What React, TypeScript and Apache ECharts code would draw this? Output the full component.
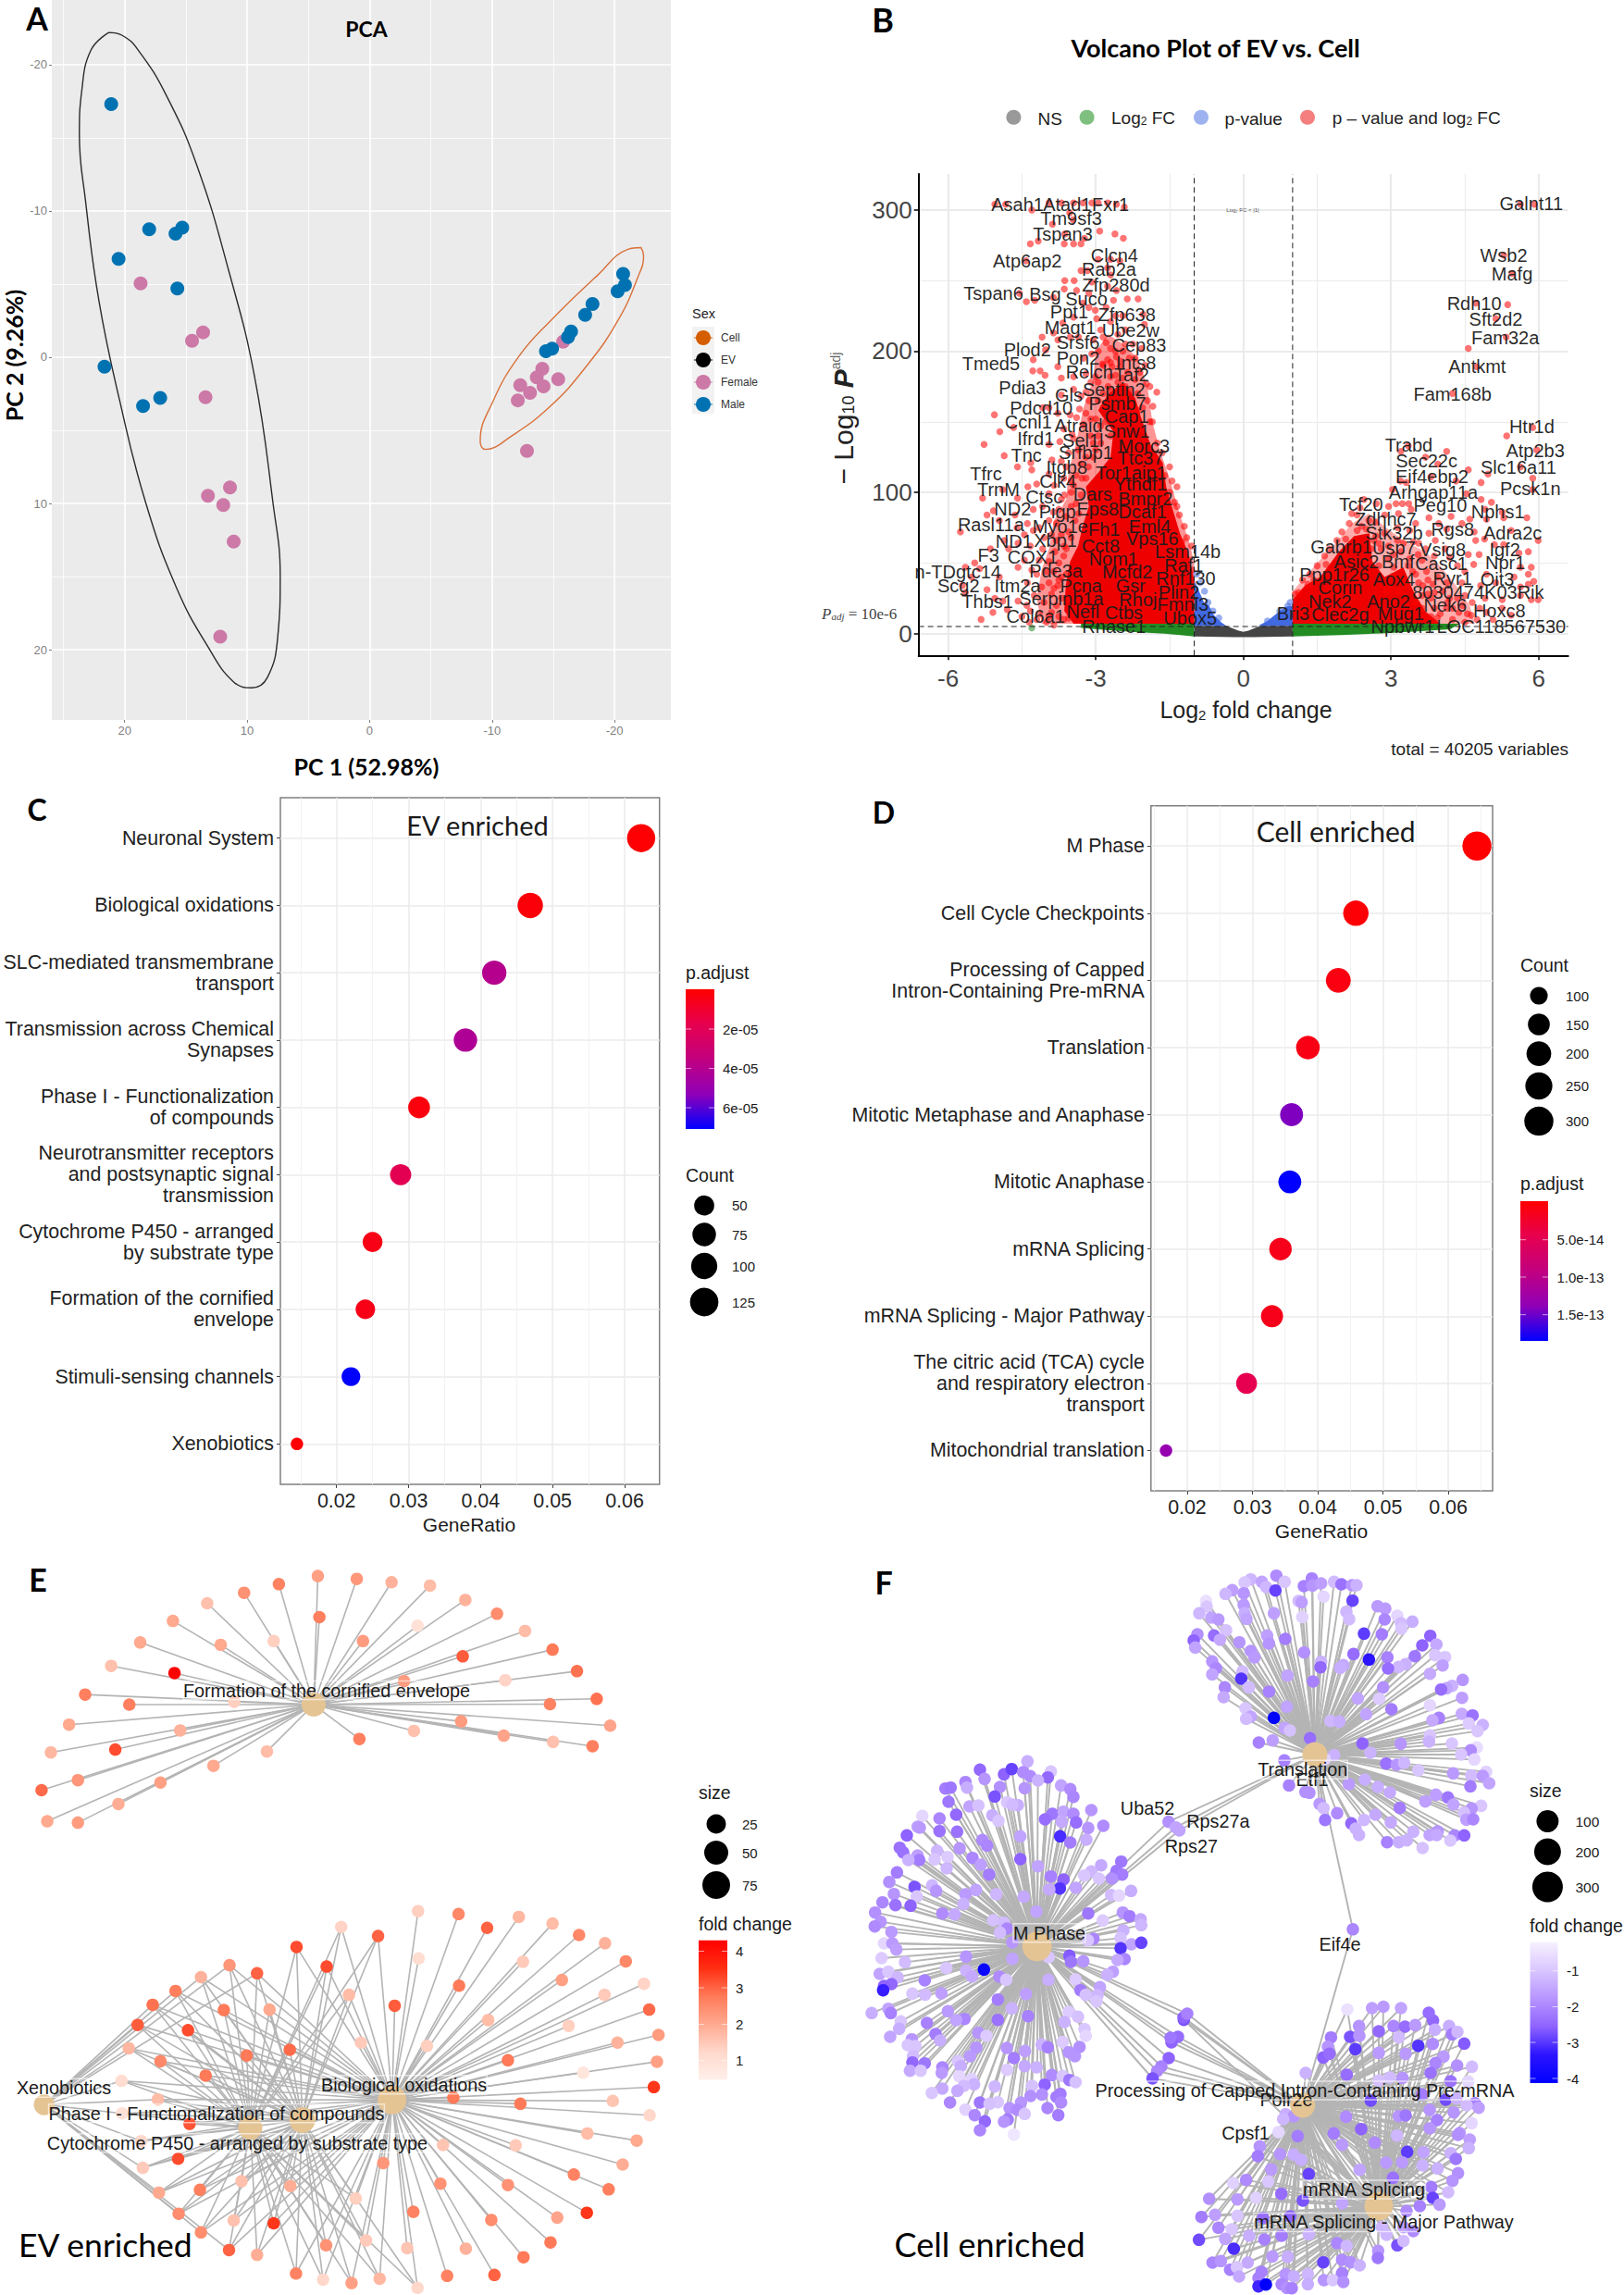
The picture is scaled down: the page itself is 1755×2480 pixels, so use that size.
import React, { useEffect, useRef } from "react";
import * as echarts from "echarts";

const SANS = "Liberation Sans";
const CAL = "Lato";
const HUB = "#E5C494";

// ---------- Panel A ----------
const pcaEvMale = [[21.1,-17.3],[18,-8.75],[15.85,-8.44],[15.3,-8.85],[20.5,-6.72],[15.7,-4.7],[21.65,0.65],[17.1,2.78],[18.5,3.33]];
const pcaEvFemale = [[18.7,-5.04],[13.6,-1.7],[14.5,-1.13],[13.4,2.74],[11.4,8.9],[13.2,9.47],[11.95,10.1],[11.1,12.6],[12.2,19.1]];
const pcaCellMale = [[-20.7,-5.7],[-20.85,-4.94],[-20.25,-4.5],[-18.2,-3.64],[-17.6,-2.9],[-16.45,-1.75],[-16.2,-1.37],[-14.9,-0.58],[-14.4,-0.41]];
const pcaCellFemale = [[-15.8,-1.06],[-14.1,0.79],[-13.65,1.37],[-15.4,1.5],[-14.2,2],[-12.3,1.92],[-13.1,2.44],[-12.1,2.95],[-12.85,6.4]];
const pcaEvEllipse = [[21.3,-22.2],[22.75,-21],[23.5,-18.25],[23.7,-15.2],[23.2,-10.7],[22.1,-3.84],[20.4,3],[18.3,9.9],[15.8,15.7],[13.2,19.8],[11.1,22.2],[9.6,22.6],[8.35,21.9],[7.5,19.1],[7.3,15],[7.9,9.9],[9.4,1.3],[11.5,-5.9],[14.1,-13.1],[16.6,-17.9],[18.9,-21],[20.2,-22],[21.3,-22.2]];
const pcaCellEllipse = [[-22.16,-7.5],[-21.1,-7.38],[-18.56,-5.56],[-14.75,-2.47],[-12.2,-0.07],[-10.08,3],[-9.03,5.76],[-9.45,6.3],[-11.57,5.4],[-14.75,3.36],[-17.7,0.62],[-20.25,-2.47],[-21.95,-5.56],[-22.37,-6.93],[-22.16,-7.5]];
const pcaXTicks = [20,10,0,-10,-20];
const pcaXMinor = [25,15,5,-5,-15];
const pcaYTicks = [-20,-10,0,10,20];
const pcaYMinor = [-15,-5,5,15];

// ---------- Panel B ----------
const volLeftPoints = [[-5.05,304],[-4.83,304],[-4.3,300],[-3.95,305],[-3.7,305],[-3.45,305],[-3.26,305],[-3.08,305],[-2.95,305],[-2.76,305],[-2.58,304],[-2.42,302],[-3.88,290],[-3.46,293],[-3.53,298],[-2.92,285],[-2.61,283],[-2.44,280],[-4.33,276],[-4.17,278],[-3.63,283],[-3.64,276],[-3.23,280],[-3.45,276],[-3.3,276],[-4.42,264],[-2.7,265],[-2.95,265],[-2.51,264],[-3.3,257],[-3.17,257],[-2.76,259],[-2.7,254],[-3.63,250],[-3.44,250],[-3.08,249],[-2.76,246],[-2.58,243],[-3.64,244],[-3.39,243],[-3.14,241],[-4.41,235],[-4.24,236],[-3.86,238],[-4.55,241],[-2.36,237],[-2.14,237],[-2.64,236],[-2.79,231],[-3.01,229],[-3.14,231],[-3.26,234],[-2.45,225],[-2.7,221],[-2.04,226],[-2.01,219],[-2.98,223],[-3.45,224],[-3.67,220],[-3.86,213],[-4.09,210],[-3.77,208],[-3.52,210],[-2.79,206],[-2.7,202],[-2.95,200],[-2.58,196],[-2.76,194],[-2.86,191],[-2.67,189],[-2.51,189],[-2.32,195],[-2.07,202],[-3.08,198],[-4.02,201],[-4.27,194],[-4.28,186],[-4.13,186],[-4.03,183],[-3.77,189],[-3.7,181],[-3.45,182],[-3.2,184],[-3.01,182],[-2.7,182],[-2.45,181],[-2.2,180],[-1.97,177],[-1.76,171],[-1.84,161],[-3.45,173],[-3.2,171],[-3.7,169],[-3.14,165],[-3.33,159],[-3.52,155],[-3.2,156],[-3.39,153],[-2.95,165],[-5.06,155],[-4.08,160],[-3.77,156],[-3.95,160],[-4.67,146],[-4.95,143],[-5.27,134],[-3.95,134],[-3.73,136],[-3.48,141],[-4.86,126],[-4.59,118],[-4.32,121],[-4.3,116],[-3.89,123],[-3.95,113],[-4.2,106],[-4.38,104],[-4.59,96],[-5.3,96],[-4.89,102],[-5.08,87],[-5.21,84],[-5.75,72],[-4.96,80],[-4.64,84],[-4.39,78],[-4.27,88],[-4.08,90],[-3.95,99],[-3.7,95],[-3.64,98],[-3.86,86],[-5.14,60],[-5.46,50],[-5.65,47],[-5.52,40],[-5.36,46],[-5.65,29],[-5.71,34],[-5.21,31],[-5.05,25],[-5.09,15],[-5.33,10],[-4.89,23],[-4.8,17],[-4.58,23],[-4.86,66],[-4.58,64],[-4.27,73],[-4.08,60],[-4.77,60],[-4.33,62],[-4.96,40],[-4.58,47],[-4.39,36],[-4.2,42],[-3.95,51],[-3.83,58],[-3.64,62],[-3.77,34],[-3.95,36],[-4.33,16],[-3.95,12],[-3.5,100],[-3.4,112],[-3.3,120],[-3.2,125],[-3,130],[-3.1,140],[-2.9,147],[-3,152],[-2.85,160],[-2.75,175],[-2.6,183],[-2.85,190],[-1.95,165],[-1.85,150],[-1.75,135],[-1.65,128],[-1.5,118],[-1.45,108],[-1.35,104],[-1.4,93],[-1.3,84],[-1.2,76],[-1.15,68],[-1.05,62],[-3.7,40],[-3.75,50],[-3.8,66],[-3.55,72],[-3.6,83],[-3.5,90],[-3.42,80],[-3.7,25],[-3.8,20],[-3.9,28],[-3.85,44],[-2.6,200],[-2.5,193],[-2.55,212],[-2.4,205],[-2.85,210],[-2.35,185],[-2.4,175],[-2.7,172],[-2.3,172],[-2.25,160],[-2.15,158],[-2.6,165],[-3.35,130],[-3.6,118],[-3.2,110],[-3.5,108],[-3.3,98],[-2.9,135],[-2.8,150],[-2.7,140],[-2.5,150],[-2.4,140],[-2.3,150],[-2.2,135],[-2.1,145],[-2,135],[-3.65,10],[-3.75,12],[-3.55,11],[-4.5,12],[-4.4,20],[-4.25,27],[-4.15,14],[-4.05,22],[-4.1,33],[-4,44],[-4.3,45],[-4.45,52],[-4.15,52],[-4.05,68],[-3.9,70],[-3.95,80],[-4.15,75],[-4.45,70],[-4.6,75],[-3.8,78],[-3.75,88],[-3.85,105],[-3.65,110],[-3.7,122],[-3.55,128],[-3.45,138],[-3.25,148],[-3.1,152],[-3.65,145],[-3.3,168],[-3.1,178],[-3.25,195],[-3.05,208],[-3.35,210],[-2.9,215],[-2.95,178],[-3.05,125],[-3.85,6],[-3.75,38],[-3.65,55],[-3.6,42],[-3.55,25],[-3.85,32],[-4,8],[-4.2,10],[-4.35,8],[-3.9,15],[-3.7,70],[-3.6,60],[-3.5,68],[-3.4,92],[-3.35,85],[-3.45,105],[-3.28,110],[-3.15,118],[-3.05,135],[-2.95,140],[-2.85,170],[-2.7,192],[-2.55,178],[-2.4,165],[-2.3,155],[-2.15,170],[-2.05,160],[-1.9,150],[-1.8,125],[-1.6,112],[-1.5,100],[-1.35,90],[-1.25,65],[-1.12,52],[-1.05,45],[-1.9,175],[-2,190],[-2.25,205],[-2.4,215],[-2.6,225],[-2.45,200],[-2.2,195],[-2.1,185]];
const volRightPoints = [[5.63,304],[5.91,304],[5.29,268],[5.46,255],[4.72,234],[5.37,233],[5.13,223],[5.34,210],[4.57,202],[4.74,189],[4.25,170],[5.88,146],[5.35,140],[5.96,130],[3.35,133],[3.2,129],[4.13,129],[3.7,125],[3.95,120],[4.57,116],[5.63,118],[4.97,113],[5.88,110],[3.81,111],[3.31,107],[3.19,108],[4.32,108],[4.83,107],[3.03,102],[4.53,99],[5.88,102],[3.1,92],[3.23,92],[3.36,92],[4.83,95],[5.04,93],[3.41,88],[2.37,89],[2.87,84],[3.77,82],[4.22,83],[4.91,88],[5.26,86],[5.76,82],[4.6,81],[3.97,78],[4.44,78],[4.94,81],[5.29,82],[2.69,79],[4.69,72],[5.44,73],[3.77,71],[4.13,74],[3.13,75],[3.38,73],[5.99,66],[4.9,67],[4.72,66],[2.08,67],[3.25,64],[3.56,64],[5.1,63],[4.57,56],[4.79,56],[5.79,58],[5.6,57],[5.29,63],[3.88,55],[3.63,52],[4.19,54],[4.68,49],[5.63,47],[5.85,47],[4.94,42],[5.79,42],[5.9,37],[5.5,40],[5.79,35],[3.75,38],[4.13,36],[4.44,36],[4.82,34],[5.13,36],[3.72,44],[5.63,33],[5.63,27],[5.85,24],[5.99,24],[5.26,24],[4.91,25],[4.5,27],[4.19,25],[3.88,29],[3.63,27],[5.26,18],[4.94,15],[4.63,13],[4.38,15],[4,14],[3.81,12],[5.07,10],[4.75,10],[4.5,8],[5.44,13],[4.25,10],[3.94,11],[1.68,49],[1.81,44],[2.06,53],[2.31,73],[2.5,74],[2.75,64],[2.94,53],[3.06,47],[1.31,35],[1.43,38],[1.12,29],[3.38,53],[3.44,44],[3.56,36],[3.25,38],[3,31],[3.81,25],[3.88,18],[4.13,18],[3.63,18],[2.31,84],[2.87,71],[3.13,66],[2.69,69],[1.05,28],[1.2,38],[1.35,42],[1.5,48],[1.65,55],[1.75,60],[1.9,66],[2,72],[2.15,78],[2.25,62],[2.4,76],[2.55,80],[2.65,66],[2.8,60],[2.95,62],[3.05,56],[3.2,58],[3.35,48],[3.5,42],[3.55,56],[3.65,34],[3.75,28],[3.85,35],[3.95,40],[4.05,30],[4.15,22],[4.25,18],[4.35,25],[4.45,20],[4.55,14],[4.65,22],[4.8,18],[3.45,65],[3.7,60],[3.9,66],[4.1,60],[4.35,48],[4.5,44],[2.45,95],[2.2,85],[2.7,92],[2.95,90],[3.15,85],[3.5,78],[2.6,60],[2.75,48],[3.05,40],[3.3,35],[3.15,30],[3.5,22],[3.3,20],[3.05,22],[2.9,30]];
const volBluePoints = [[-0.95,42],[-0.88,36],[-0.79,30],[-0.72,22],[-0.62,16],[-0.5,11],[0.9,19.5],[0.74,16],[0.49,9],[0.95,22]];
const volGreenPoints = [[-4.3,4]];
const volRedLeftCloud = [[-4.1,7],[-4.2,25],[-4.1,45],[-3.95,60],[-3.85,80],[-3.6,95],[-3.55,115],[-3.4,135],[-3.25,160],[-3.05,180],[-3,200],[-2.75,212],[-2.45,205],[-2.15,195],[-1.95,175],[-1.85,150],[-1.7,130],[-1.5,110],[-1.3,85],[-1.1,65],[-1,50],[-1,7]];
const volRedRightCloud = [[1,7],[1,30],[1.5,50],[1.9,65],[2.2,78],[2.55,85],[2.9,75],[3.3,65],[3.7,58],[4,48],[4.3,35],[4.6,20],[4.7,7]];
const volRedLeftArea = [[-3.45,7],[-3.64,16],[-3.61,34],[-3.52,51],[-3.36,62],[-3.26,77],[-3.14,90],[-3.2,104],[-2.95,114],[-2.7,125],[-2.64,143],[-2.95,158],[-2.76,169],[-2.45,178],[-2.2,167],[-2.07,152],[-1.89,134],[-1.64,121],[-1.57,104],[-1.42,86],[-1.29,71],[-1.13,58],[-1,38],[-1,7]];
const volRedRightArea = [[1,7],[1,24],[1.25,34],[1.56,40],[1.94,58],[2.25,69],[2.56,71],[2.62,51],[2.87,40],[3.25,47],[3.44,31],[3.69,16],[4,7]];
const volBlueLeftArea = [[-1,38],[-0.9,30],[-0.8,22],[-0.7,20],[-0.6,13],[-0.45,8],[-0.35,5.5],[-1,5.5]];
const volBlueRightArea = [[1,19.5],[0.9,19.5],[0.74,16],[0.49,9],[0.3,5.5],[1,5.5]];
const volGreenLeftArea = [[-3.3,7],[-1,7],[-1,-2],[-1.6,0],[-2.2,1],[-2.8,2.5],[-3.3,4]];
const volGreenRightArea = [[1,7],[4.4,7],[4.2,3],[3,0.5],[2,-1],[1,-2]];
const volGreyArea = [[-1,5.5],[-0.35,5.5],[-0.1,2],[0,1.2],[0.1,2],[0.35,5.5],[1,5.5],[1,-2],[0.2,-2.5],[-0.2,-2.5],[-1,-2]];
const volLabels: [string, number, number][] = [["Asah1",-4.59,304],["Atad1",-3.58,304],["Fxr1",-2.7,304],["Tm9sf3",-3.5,294],["Tspan3",-3.67,283],["Atp6ap2",-4.39,264],["Clcn4",-2.62,268],["Rab2a",-2.73,258],["Zfp280d",-2.59,247],["Tspan6",-5.08,241],["Bsg",-4.03,240],["Suco",-3.19,237],["Ppt1",-3.54,228],["Zfp638",-2.37,226],["Magt1",-3.52,217],["Ube2w",-2.29,215],["Srsf6",-3.36,206],["Plod2",-4.39,201],["Cep83",-2.12,204],["Pon2",-3.36,195],["Tmed5",-5.13,191],["Ints8",-2.18,192],["Relch",-3.13,185],["Taf2",-2.27,183],["Pdia3",-4.49,174],["Septin2",-2.63,173],["Gls",-3.55,169],["Psmb7",-2.56,163],["Pdcd10",-4.11,160],["Cap1",-2.37,154],["Ccnl1",-4.37,150],["Atraid",-3.35,147],["Ifrd1",-4.22,138],["Snw1",-2.37,143],["Sel1l",-3.26,137],["Morc3",-2.02,133],["Srfbp1",-3.2,128],["Tnc",-4.41,126.5],["Ttc37",-2.09,124],["Itgb8",-3.59,118],["Tor1aip1",-2.28,114],["Tfrc",-5.23,113],["Clk4",-3.77,108],["Ythdf1",-2.09,106],["TrnM",-4.98,102],["Dars",-3.06,99],["Ctsc",-4.05,97],["Bmpr2",-1.99,95.5],["ND2",-4.69,88],["Pigp",-3.78,86],["Eps8",-2.96,88],["Dcaf1",-2.05,86],["Rasl11a",-5.13,77],["Myo1e",-3.72,76],["Fh1",-2.83,74],["Eml4",-1.9,76],["ND1",-4.66,65],["Xbp1",-3.82,66],["Vps16",-1.85,67],["Cct8",-2.9,62],["F3",-5.18,55.5],["COX1",-4.28,54],["Lsm14b",-1.13,58],["Nom1",-2.64,53],["n-TDgtc14",-5.8,44],["Pde3a",-3.81,44.5],["Raf1",-1.21,48],["Mcfd2",-2.36,43.5],["Rnf130",-1.17,39],["Scg2",-5.79,34],["Itm2a",-4.59,34],["Pcna",-3.3,34],["Gsr",-2.29,33.6],["Serpinb1a",-3.7,25],["Plin2",-1.31,29],["Thbs1",-5.2,22.7],["Rhoj",-2.14,24],["Fmnl3",-1.23,20.5],["Col6a1",-4.22,12.4],["Nefl",-3.26,15.5],["Ctbs",-2.43,15],["Ubox5",-1.08,10.7],["Rnase1",-2.63,5],["Galnt11",5.85,304.5],["Wsb2",5.29,268],["Mafg",5.46,255],["Rdh10",4.69,234],["Sft2d2",5.13,222.6],["Fam32a",5.32,209.5],["Antkmt",4.75,189],["Fam168b",4.25,169.5],["Htr1d",5.86,146.6],["Trabd",3.36,133.7],["Atp2b3",5.93,129.7],["Sec22c",3.72,122.5],["Slc16a11",5.59,117.7],["Eif4ebp2",3.83,111],["Arhgap11a",3.86,100],["Pcsk1n",5.83,102.4],["Tcf20",2.39,91.5],["Peg10",4,91],["Nphs1",5.17,86],["Zdhhc7",2.89,81],["Rgs8",4.25,74],["Stk32b",3.06,71],["Adra2c",5.47,71.4],["Gabrb1",1.99,61.4],["Usp7",3.06,60.5],["Vsig8",4.05,59.4],["Igf2",5.31,59.4],["Asic2",2.3,51],["Bmf",3.14,51],["Casc1",4.02,49.4],["Npr1",5.32,50],["Ppp1r26",1.85,42],["Aox4",3.06,38.7],["Ryr1",4.25,39],["Oit3",5.16,38.7],["Corin",1.97,32.5],["8030474K03Rik",4.77,29],["Nek2",1.76,23],["Ano2",2.95,23],["Nek6",4.1,20],["Bri3",1.01,14.4],["Clec2g",1.97,13.3],["Hoxc8",5.2,16],["Mug1",3.2,14],["Npbwr1",3.24,4.8],["LOC118567530",5.24,4.8]];
const volXTicks = [-6,-3,0,3,6];
const volXMinor = [-4.5,-1.5,1.5,4.5];
const volYTicks = [0,100,200,300];
const volYMinor = [50,150,250];
const volFcCut = 1;
const volPCut = 5;

// ---------- Panels C, D ----------
const evTerms = ["Neuronal System","Biological oxidations","SLC-mediated transmembrane\ntransport","Transmission across Chemical\nSynapses","Phase I - Functionalization\nof compounds","Neurotransmitter receptors\nand postsynaptic signal\ntransmission","Cytochrome P450 - arranged\nby substrate type","Formation of the cornified\nenvelope","Stimuli-sensing channels","Xenobiotics"];
const evRatio = [0.0623,0.0469,0.0419,0.0379,0.03146,0.0289,0.025,0.024,0.022,0.0145];
const evCount = [122,92,82,74,61,57,49,47,43,28];
const evPadj = [1e-6,2e-6,4e-5,4.2e-5,3e-6,1.9e-5,5e-6,5e-6,7.06e-5,1e-6];
const cellTerms = ["M Phase","Cell Cycle Checkpoints","Processing of Capped\nIntron-Containing Pre-mRNA","Translation","Mitotic Metaphase and Anaphase","Mitotic Anaphase","mRNA Splicing","mRNA Splicing - Major Pathway","The citric acid (TCA) cycle\nand respiratory electron\ntransport","Mitochondrial translation"];
const cellRatio = [0.0644,0.04585,0.04316,0.0385,0.036,0.03573,0.0343,0.033,0.0291,0.01676];
const cellCount = [300,214,201,179,168,166,160,154,136,78];
const cellPadj = [1e-15,3e-15,1e-14,1.2e-14,1.44e-13,1.85e-13,1.5e-14,1.5e-14,4.6e-14,1.33e-13];
const ratioTicks = [0.02,0.03,0.04,0.05,0.06];
const ratioMinor = [0.015,0.025,0.035,0.045,0.055,0.065];
const termSlots = [1,2,3,4,5,6,7,8,9,10];

// ---------- Panel E: layout coordinates, fold change ----------
const eFormationLeaves = [[612,64,2.2],[687,70,2.4],[754,77,1.8],[828,84,1.6],[896,114,1.8],[957,143,2.6],[1011,179,1.6],[1064,218,3],[1111,263,3.1],[1149,321,3.1],[1175,377,2.1],[1141,420,2.9],[1065,411,1.5],[970,398,2.1],[888,368,2.3],[797,388,1.5],[692,405,2.9],[1059,332,2.8],[973,282,1.1],[891,232,3.4],[778,284,2.3],[804,168,0.8],[699,200,2.3],[615,150,2.9],[527,200,1.2],[537,81,2.8],[470,99,2.5],[399,121,1.5],[333,158,2],[425,208,2],[270,203,2],[214,252,1.5],[336,267,4.3],[451,327,1.2],[249,333,2.9],[164,312,2.9],[133,375,2],[347,387,1.8],[98,433,1.7],[222,427,3.6],[150,491,2.4],[80,512,3.2],[411,461,2],[514,431,1.6],[309,496,2.2],[228,541,1.9],[91,577,2],[150,580,2.3]];
const eBioLeaves = [[805,765,1.2],[883,771,2.7],[938,800,3.3],[999,777,1.7],[1064,791,1.6],[1115,815,2.7],[1165,832,1.8],[1205,870,2.7],[1240,917,1.1],[1250,971,3.2],[1268,1024,2.3],[1265,1080,2.2],[1259,1133,3.9],[1251,1192,1],[1226,1245,2],[1199,1295,1.9],[1172,1347,2.9],[1130,1396,3.9],[1073,1406,2.1],[1060,1458,3],[1008,1489,3],[952,1526,3.3],[861,1528,2.8],[1007,871,1.3],[1082,909,2.2],[1164,940,1.3],[1095,1005,1.2],[1189,1040,1.8],[1123,1103,0.7],[1180,1162,1.4],[1131,1230,1.6],[1105,1316,2.8],[1002,1168,3],[873,1155,3],[993,1255,1.3],[978,1338,2.5],[946,1411,2.6],[897,1471,1.8],[848,1335,2.5],[796,1394,2.8],[784,1470,1.4],[738,1292,2.4],[853,1254,1.4],[884,921,3],[978,1077,3],[940,993,1.6],[822,1047,1.2],[806,864,0.9],[760,963,3.4],[695,1040,1.3]];
const eSharedLeaves = [[571,840,3.6],[629,881,3.6],[431,972,3],[519,971,2],[362,1014,3.6],[309,1079,2.7],[475,1067,3],[558,1055,3.2],[396,1109,3],[365,1210,3.5],[343,1283,3.6],[385,1348,2.9],[450,1412,1.5],[465,1330,1.5],[527,1418,3.9],[559,1340,1.9],[495,1484,1.9],[570,1523,2.8],[622,1536,1],[677,1543,2.2],[731,1534,1.7],[804,1553,1],[628,1464,2.5],[705,1454,1.3],[685,1366,1.2],[657,798,1.1],[672,940,1.6],[728,817,3.3]];
const eXenoLeaves = [[442,878,2.4],[495,895,3.3],[387,903,1.8],[338,932,2.9],[294,961,3.1],[265,1003,3.4],[248,1052,1.7],[234,1120,0.9],[304,1159,1.6],[235,1188,0.8],[272,1246,1],[275,1302,1.3],[306,1354,2],[344,1398,2.6],[387,1437,2.6],[441,1474,3.3]];
const eHubFormation = [604,333];
const eHubXeno = [85,1170];
const eHubPhase = [482,1218];
const eHubCyto = [582,1202];
const eHubBio = [755,1160];

const fMPhaseLeaves = [[387,37,-2.9],[465,52,-3],[490,35,-3.4],[541,10,-1.5],[527,45,-2.2],[550,58,-2.2],[617,43,-1],[607,62,-2.9],[575,72,-1.4],[402,67,-2],[340,77,-2.3],[345,95,-1.5],[452,93,-2.1],[532,97,-2],[275,98,-2.5],[292,95,-2.6],[650,88,-1.7],[680,100,-2.2],[690,125,-2.3],[435,124,-3.2],[285,141,-2.6],[353,156,-1.7],[382,153,-1.1],[475,143,-1],[510,152,-1.5],[492,150,-1.2],[748,168,-2],[310,183,-2.9],[427,185,-1.5],[622,180,-2.6],[658,173,-1.7],[690,180,-2.2],[598,198,-2.8],[200,187,-0.7],[256,195,-2.3],[447,203,-1],[652,206,-1.6],[699,208,-2.8],[787,219,-2.2],[185,222,-1.8],[192,225,-1.9],[256,236,-2.7],[313,238,-2.7],[738,226,-2],[647,253,-3.7],[518,253,-1.7],[150,250,-3],[395,265,-2.2],[410,283,-2.3],[680,273,-2.5],[732,264,-1.5],[127,290,-2.7],[138,305,-2.7],[248,300,-1.3],[321,292,-2],[185,315,-1.8],[190,330,-2.5],[282,320,-0.9],[240,328,-1],[363,323,-2.3],[518,327,-3],[155,330,-1.4],[390,345,-1.8],[575,350,-1.7],[279,357,-1.3],[845,335,-2.6],[780,347,-1.6],[748,367,-1.3],[725,380,-1],[417,377,-2.5],[830,365,-2.6],[848,377,-2.5],[118,370,-2.5],[617,383,-2.4],[773,390,-1],[815,390,-2.1],[93,401,-2.1],[658,393,-3],[175,417,-3.2],[232,412,-1.3],[646,422,-3.6],[245,430,-2],[374,427,-1.7],[612,425,-1.6],[698,420,-1.7],[877,430,-1.5],[108,440,-2],[340,441,-1.9],[440,441,-1.3],[812,443,-1.2],[838,445,-0.7],[182,448,-1],[529,449,-1.6],[71,467,-2.3],[113,476,-2.7],[162,478,-3],[333,472,-1.4],[570,497,-1.7],[47,500,-2.1],[265,503,-2.2],[305,506,-1.6],[738,503,-2.6],[850,500,-2],[872,512,-2.5],[65,530,-2],[430,525,-1.1],[465,533,-1.2],[475,552,-2.3],[785,526,-0.9],[908,522,-1.6],[46,545,-2.2],[910,541,-1.3],[100,563,-1.9],[452,565,-1.2],[852,558,-1.4],[755,585,-2.3],[76,600,-0.7],[103,600,-1.9],[492,597,-2],[843,583,-1.1],[737,590,-1],[116,620,-1.8],[878,603,-1.7],[910,598,-3.4],[843,616,-3.6],[677,640,-3.1],[68,648,-0.9],[144,661,-1.2],[342,643,-2],[492,650,-1.7],[610,645,-1],[682,660,-2.6],[722,658,-2],[856,651,-2.3],[833,654,-1.6],[278,680,-1],[62,699,-1.7],[90,692,-1],[342,688,-1.4],[400,685,-4.1],[120,710,-1.3],[361,707,-1.6],[100,732,-2.9],[450,708,-2.2],[472,718,-1],[609,718,-1.5],[697,717,-0.9],[818,692,-1.8],[800,702,-1.4],[208,720,-2.4],[76,738,-3],[73,752,-3.9],[776,742,-1.7],[713,752,-2.5],[768,768,-1.3],[730,767,-1.1],[168,763,-1],[209,766,-1.2],[262,762,-1.8],[536,764,-1.8],[445,782,-2.5],[765,788,-1],[490,811,-1.4],[36,826,-1.5],[90,812,-1.7],[98,826,-2.4],[283,820,-1.9],[543,836,-2.4],[675,822,-0.9],[705,838,-1.1],[337,845,-2.3],[310,849,-1.7],[445,848,-2.7],[661,855,-1.4],[130,853,-1],[215,858,-2.4],[726,878,-1],[125,877,-1.5],[243,894,-2.5],[382,890,-2],[408,900,-0.9],[96,903,-1.7],[730,900,-0.7],[166,911,-2],[258,915,-1.5],[655,920,-0.9],[153,930,-1],[178,933,-1],[375,938,-2],[474,939,-2],[587,928,-1.4],[607,937,-2.4],[710,936,-2.1],[533,949,-1.8],[675,953,-2],[355,966,-1.9],[695,966,-2],[497,972,-2.5],[170,965,-1.2],[168,986,-2.9],[208,989,-2.6],[316,982,-1],[325,998,-1.5],[532,998,-1.6],[571,1002,-1.4],[265,1002,-2.3],[160,1013,-1.6],[195,1013,-1],[475,1010,-0.9],[263,1020,-1.9],[320,1031,-0.7],[620,1027,-2.2],[655,1030,-1],[677,1043,-2.6],[697,1050,-1.1],[360,1040,-0.8],[368,1057,-1.4],[435,1064,-1.3],[556,1062,-1.1],[597,1058,-3],[335,1062,-1.2],[265,1071,-1.6],[314,1078,-1.6],[231,1085,-1],[551,1095,-2.1],[588,1090,-2.1],[648,1088,-2.5],[635,1098,-2.5],[290,1116,-2.3],[387,1116,-2.6],[445,1115,-1],[520,1116,-2],[418,1120,-1.1],[650,1116,-2.2],[340,1139,-0.8],[483,1134,-2],[606,1134,-2.3],[508,1140,-2.2],[532,1153,-1],[641,1157,-2.5],[370,1157,-2.3],[403,1177,-2.9],[477,1171,-2.5],[465,1178,-2],[387,1206,-2.3],[497,1220,-0.4]];
const fTranslationLeaves = [[328,68,-2.2],[245,80,-1.3],[225,90,-1],[281,88,-1.7],[355,88,-1],[295,105,-1.3],[185,115,-1.8],[163,127,-1.3],[222,125,-2],[325,116,-3.4],[443,77,-2.4],[417,102,-2.4],[445,100,-2],[473,93,-1.8],[515,88,-1.2],[539,96,-2.7],[573,99,-2],[588,99,-1.4],[481,136,-0.7],[400,150,-1.2],[410,154,-1.8],[575,149,-3.4],[100,150,-0.5],[102,168,-1],[222,163,-1.9],[656,167,-1.9],[681,175,-1.9],[78,190,-1.3],[320,190,-1.8],[555,185,-1.3],[225,190,-1.5],[720,198,-0.7],[117,204,-1.7],[140,210,-1.9],[231,208,-1.7],[412,202,-0.8],[564,209,-1.2],[679,210,-2.3],[769,217,-1.5],[732,222,-1.2],[165,245,-1.1],[733,240,-1],[72,258,-2.1],[126,262,-2.8],[60,278,-3],[612,256,-3.5],[670,258,-2.5],[298,262,-1.8],[357,273,-2.5],[827,263,-3],[145,276,-1.6],[65,301,-1.7],[208,284,-2],[304,288,-2],[801,294,-3],[847,291,-1.6],[245,312,-2],[257,333,-1.9],[418,317,-2.1],[578,322,-2.8],[843,326,-1],[875,332,-1],[688,333,-2.4],[777,329,-2.6],[628,340,-4],[120,346,-2],[747,355,-1.4],[724,364,-1.3],[867,359,-1.8],[473,347,-1.4],[471,365,-2.9],[545,358,-1.6],[535,367,-1.5],[690,369,-2.8],[132,368,-2.3],[120,388,-1.7],[218,379,-1.2],[364,392,-1.7],[826,386,-1.6],[214,402,-3.6],[932,406,-2],[447,411,-2.4],[898,425,-1.4],[880,433,-1.7],[862,437,-2.8],[674,430,-2.1],[161,430,-2.3],[239,430,-1.2],[304,444,-2.4],[157,462,-1.6],[592,466,-1.7],[661,467,-0.9],[930,464,-1.8],[362,493,-1.7],[701,501,-2.5],[228,498,-1],[826,488,-0.7],[619,517,-1.7],[929,516,-1.6],[964,521,-2.7],[245,525,-1.7],[230,532,-1.2],[320,529,-4.3],[855,529,-2.4],[834,537,-1.6],[503,539,-1.3],[532,541,-1.5],[997,552,-1.4],[952,547,-0.9],[355,562,-1.7],[372,570,-1.1],[980,572,-1],[826,586,-1],[437,595,-2.8],[271,609,-2.4],[316,602,-1.8],[607,612,-3],[823,606,-1.4],[731,613,-2],[897,612,-1],[978,625,-0.6],[958,634,-2.2],[633,642,-1.4],[515,650,-1.4],[927,648,-1],[485,663,-0.8],[970,664,-0.7],[354,667,-2.4],[684,677,-2.7],[718,681,-2],[742,675,-1.3],[788,699,-1],[901,709,-1.9],[1008,704,-0.8],[960,716,-1.2],[997,717,-1.9],[1018,741,-1.7],[615,729,-1.5],[563,744,-1.9],[369,748,-2.4],[657,753,-1.5],[957,751,-2.5],[696,771,-1.6],[422,769,-2.1],[435,772,-2.1],[845,778,-1.8],[884,787,-2.6],[811,800,-1.8],[902,810,-1.7],[468,808,-1.9],[481,822,-1.2],[728,821,-2.5],[992,814,-1],[961,823,-2],[936,836,-1.1],[525,838,-2.2],[649,843,-1.6],[944,859,-1.8],[966,858,-2.3],[486,860,-2.6],[612,860,-1.3],[571,871,-2.9],[699,868,-1.6],[585,888,-1.4],[772,898,-1.4],[596,909,-1.4],[851,897,-2],[825,909,-1.7],[906,910,-2.3],[848,909,-1.6],[937,910,-3],[892,927,-1],[687,932,-2.4],[725,932,-1.5],[751,926,-1.4],[802,951,-1.1]];
const fSplicingLeaves = [[28,8,-3.2],[596,28,-2],[660,45,-2.9],[708,28,-2.3],[745,30,-2.8],[778,25,-1.9],[836,10,-2.9],[888,28,-1.5],[842,40,-1.5],[898,55,-2.5],[915,47,-1.3],[505,65,-2.5],[567,63,-3.2],[597,60,-2],[725,65,-1.2],[788,92,-3.6],[835,86,-2.2],[937,85,-3.1],[584,103,-3.5],[495,95,-2],[660,115,-1.9],[747,118,-1.9],[480,130,-3],[500,118,-2.8],[870,127,-1.9],[844,148,-2.3],[914,156,-2.1],[962,160,-1.2],[423,180,-1.4],[556,186,-2.8],[828,180,-2.7],[696,195,-1.2],[737,196,-2],[660,205,-1.1],[893,207,-2.7],[950,208,-0.7],[634,270,-3.3],[800,250,-2.5],[877,267,-3.3],[912,263,-1.4],[972,278,-2.4],[984,293,-1.8],[945,285,-1.2],[825,300,-2],[903,308,-2],[358,314,-1.5],[384,321,-2],[350,330,-1.3],[554,322,-2.2],[725,320,-2],[747,318,-2.6],[849,333,-2.4],[961,343,-0.7],[603,362,-3],[825,360,-2],[335,372,-0.7],[514,376,-2.5],[397,385,-2.5],[719,383,-1.3],[922,375,-2],[917,381,-2.1],[274,418,-2],[955,396,-1.8],[647,406,-2.2],[541,413,-1.9],[952,424,-1.4],[752,436,-3.5],[268,450,-2.5],[340,443,-2],[384,445,-1.5],[408,462,-1.5],[805,437,-1.7],[893,440,-1.4],[910,459,-2.6],[684,471,-1.9],[736,470,-1.9],[802,480,-1.4],[851,490,-1.4],[311,493,-1.9],[598,494,-1.7],[433,508,-3.4],[917,505,-2.1],[899,530,-2],[230,527,-2.2],[302,532,-1],[706,520,-2.7],[188,537,-0.8],[830,550,-2.5],[885,567,-1.2],[344,572,-2.8],[110,588,-2.1],[262,585,-0.8],[202,590,-1.9],[414,594,-3.2],[835,585,-3.4],[541,603,-1.7],[857,607,-1.9],[793,612,-2.4],[129,640,-1.8],[85,647,-2.5],[202,643,-1],[285,650,-2.8],[373,645,-3],[750,628,-2.2],[140,682,-2.3],[183,687,-1],[670,680,-1.3],[740,680,-1.8],[772,693,-2.2],[240,708,-1.5],[77,721,-3.3],[162,718,-1.7],[289,720,-2.4],[345,708,-2.5],[433,703,-1.4],[685,705,-1.3],[525,732,-2.3],[556,741,-1.3],[720,739,-3.2],[740,725,-1.2],[190,750,-3.7],[658,757,-2],[121,795,-2.3],[148,790,-2],[235,795,-1.6],[315,775,-1.9],[365,776,-1.5],[480,794,-3.4],[541,786,-2.2],[569,794,-2.1],[598,804,-1.4],[657,780,-2.6],[178,818,-2.4],[200,810,-1],[280,825,-2.4],[207,840,-1.6],[270,845,-2.4],[358,833,-2],[385,840,-1.5],[430,832,-1.3],[430,865,-1.5],[541,829,-2.4],[482,852,-2],[511,852,-1],[545,858,-2.1],[345,865,-2.3],[362,877,-2.1],[378,878,-2.4],[270,872,-3.8],[294,866,-4.3]];
const fSplicingTopLeaves = [[1456,2171.5,-0.5],[1482.7,2170,-1.8],[1495,2168.5,-1.9],[1514,2170,-1.7],[1544,2175,-2.8]];
const fBridgeMProc = [[1279,2180,-3],[1283,2176,-2.4],[1273,2201,-2.8],[1266,2207,-3],[1265,2202,-2.6],[1263,2224,-3],[1255,2233,-2.4],[1250.5,2238,-2.3],[1245.5,2246,-3.2]];
const fBridgeMTrans = [[1262.8,1968.6,-2.1],[1270.6,1974.7,-1.7],[1274.5,1978,-1.7]];
const fBridgeTransProc = [[1462,2084.8,-2.3]];
const fHubM = [1120.7,2103.3];
const fHubT = [1421,1896];
const fHubP = [1407.7,2275];
const fHubS = [1490,2384];

// ---------- legend values ----------
const evCountKeys = [50,75,100,125];
const cellCountKeys = [100,150,200,250,300];
const sizeKeysE = [25,50,75];
const sizeKeysF = [100,200,300];
const foldTicksE = [4,3,2,1];
const foldTicksF = [-1,-2,-3,-4];

// ---------- helpers ----------
const PADJ_STOPS = ["#FF0000","#E6004F","#C2007F","#9000B8","#0000FF"];
const FOLD_E: [number,string][] = [[0.48,"#FFF0EB"],[1,"#FFD8CB"],[2,"#FFA98F"],[3,"#FF7A58"],[4,"#FF2E12"],[4.3,"#FF0000"]];
const FOLD_F: [number,string][] = [[-0.2,"#F6F1FF"],[-1,"#D9C6FF"],[-2,"#B795FF"],[-3,"#8E63FF"],[-4,"#2C14FF"],[-4.13,"#0000FF"]];
const hex = (h: string) => [1,3,5].map((i) => parseInt(h.slice(i,i+2),16));
const mix = (a: string, b: string, t: number) => {
  const A = hex(a), B = hex(b);
  return "rgb(" + A.map((v,i) => Math.round(v+(B[i]-v)*t)).join(",") + ")";
};
const padjColor = (t: number) => {
  const p = Math.min(0.9999,Math.max(0,t))*(PADJ_STOPS.length-1);
  const i = Math.floor(p);
  return mix(PADJ_STOPS[i],PADJ_STOPS[i+1],p-i);
};
const foldColor = (stops: [number,string][], v: number) => {
  const s = stops[0][0] < stops[1][0] ? 1 : -1;
  for (let i=0;i<stops.length-1;i++) {
    const [a,ca] = stops[i], [b,cb] = stops[i+1];
    if (s*v <= s*b) return mix(ca,cb,Math.max(0,(v-a)/(b-a)));
  }
  return stops[stops.length-1][1];
};
const barGrad = (stops: string[]) => new echarts.graphic.LinearGradient(0,0,0,1,stops.map((c,i)=>({offset:i/(stops.length-1),color:c})));

const xAxes: any[] = [];
const yAxes: any[] = [];
function addAxis(list: any[], grid: number, pos: string, min: number, max: number, major: number[], minor: number[]|null, c: any) {
  const index = list.length;
  const base = { type:"value", gridIndex:grid, position:pos, min, max, inverse:!!c.inverse, scale:true };
  list.push({ ...base,
    axisLine:{ show:!!c.line, onZero:false, lineStyle:{ color:"#000", width:2 } },
    axisTick:{ show:c.tick!==false, customValues:major, length:c.tickLen||4, lineStyle:{ color:c.tickColor||"#333", width:c.tickWidth||1 } },
    axisLabel:{ show:c.label!==false, customValues:major, formatter:c.fmt||((v:number)=>String(v)), margin:c.margin||6, color:c.color||"#333", fontFamily:SANS, fontSize:c.size||21, lineHeight:c.lineHeight, align:c.align },
    splitLine:{ show:true, lineStyle:{ color:c.gridColor, width:c.gridWidth||1.5, type:"solid" } },
  });
  if (minor) list.push({ ...base,
    axisLine:{ show:false }, axisTick:{ show:false, customValues:minor }, axisLabel:{ show:false, customValues:minor },
    splitLine:{ show:true, lineStyle:{ color:c.minorColor||c.gridColor, width:c.minorWidth||1, type:"solid" } },
  });
  return index;
}

function txt(text: string, x: number, y: number, o: any = {}) {
  return { type:"text", x, y, z:100, rotation:o.rotation||0, silent:true,
    style:{ text, fill:o.fill||"#1a1a1a", fontFamily:o.font||SANS, fontSize:o.size||15, fontWeight:o.weight||"normal",
      fontStyle:o.style||"normal", align:o.align||"left", verticalAlign:o.va||"middle", rich:o.rich,
      textBorderColor:o.halo?"rgba(255,255,255,0.6)":undefined, textBorderWidth:o.halo?1.5:0 } };
}
const dot = (cx:number, cy:number, d:number, fill:string) => ({ type:"circle", z:50, silent:true, shape:{ cx, cy, r:d/2 }, style:{ fill } });
const box = (x:number,y:number,w:number,h:number,fill:any) => ({ type:"rect", z:49, silent:true, shape:{x,y,width:w,height:h}, style:{fill} });
const seg = (x1:number,y1:number,x2:number,y2:number,stroke:string,w=1) => ({ type:"line", z:51, silent:true, shape:{x1,y1,x2,y2}, style:{stroke,lineWidth:w} });

const sizeScale = (cMin:number,cMax:number,dMin:number,dMax:number) => (c:number) => dMin+(dMax-dMin)*Math.sqrt(Math.max(0,(c-cMin)/(cMax-cMin)));
const fromCrop = (pts:number[][],x0:number,y0:number) => pts.map(([x,y,f])=>[x0+x/3,y0+y/3,f]);

function polygonSeries(pts:number[][], fill:string, xi:number, yi:number, z=2) {
  return { type:"custom", coordinateSystem:"cartesian2d", xAxisIndex:xi, yAxisIndex:yi, z, silent:true, clip:false, data:pts,
    renderItem:(p:any, api:any)=> p.dataIndex===0 ? { type:"polygon", shape:{ points:pts.map((q)=>api.coord(q)) }, style:{ fill } } : null };
}

function buildOption() {
  xAxes.length = 0; yAxes.length = 0;
  const grids:any[] = [];
  const series:any[] = [];
  const g:any[] = [];

  // ---------- A ----------
  grids.push({ left:56, top:0, width:669, height:778, show:true, backgroundColor:"#EBEBEB", borderWidth:0 });
  const aCfg = { gridColor:"#FFFFFF", gridWidth:1.6, minorWidth:0.8, color:"#7F7F7F", size:13, tickColor:"#7F7F7F", margin:5, tickLen:3 };
  const ax = addAxis(xAxes,0,"bottom",-24.6,25.95,pcaXTicks,pcaXMinor,{ ...aCfg, inverse:true });
  const ay = addAxis(yAxes,0,"left",-24.42,24.8,pcaYTicks,pcaYMinor,{ ...aCfg, inverse:true });
  const lineS = (data:number[][],color:string)=>({ type:"line", xAxisIndex:ax, yAxisIndex:ay, data, smooth:0.45, symbol:"none", silent:true, lineStyle:{ color, width:1.4 }, z:3 });
  series.push(lineS(pcaEvEllipse,"#2b2b2b"),lineS(pcaCellEllipse,"#D9703A"));
  const pcaS = (data:number[][],color:string)=>({ type:"scatter", xAxisIndex:ax, yAxisIndex:ay, data, symbolSize:15, itemStyle:{ color, opacity:1 }, silent:true, z:4 });
  series.push(pcaS(pcaEvFemale,"#CC79A7"),pcaS(pcaCellFemale,"#CC79A7"),pcaS(pcaEvMale,"#0072B2"),pcaS(pcaCellMale,"#0072B2"));
  g.push(txt("A",40,19,{ font:CAL, weight:"bold", size:34, align:"center", fill:"#000" }));
  g.push(txt("PCA",396,31,{ font:CAL, weight:"bold", size:23, align:"center", fill:"#000" }));
  g.push(txt("PC 1 (52.98%)",396,828,{ font:CAL, weight:"bold", size:25, align:"center", fill:"#000" }));
  g.push(txt("PC 2 (9.26%)",15,384,{ font:CAL, weight:"bold", size:25, align:"center", fill:"#000", rotation:Math.PI/2 }));
  g.push(txt("Sex",748,339,{ size:14.5, fill:"#222" }));
  g.push(box(748,353,24,94,"#F2F2F2"));
  [["Cell","#D55E00",365],["EV","#000000",389],["Female","#CC79A7",413],["Male","#0072B2",437]].forEach(([n,c,y]:any)=>{
    g.push(seg(750,y,770,y,c,1)); g.push(dot(760,y,16,c)); g.push(txt(n,779,y,{ size:12, fill:"#333" }));
  });

  // ---------- B ----------
  grids.push({ left:992.7, top:188, width:702, height:520.3, show:false });
  const bCfg = { gridColor:"#EBEBEB", gridWidth:2.2, minorWidth:1.1, color:"#444", size:26, tickColor:"#000", tickWidth:1.5, line:true, tickLen:5, margin:7 };
  const bx = addAxis(xAxes,1,"bottom",-6.6,6.6,volXTicks,volXMinor,{ ...bCfg, margin:12 });
  const by = addAxis(yAxes,1,"left",-15.5,325.5,volYTicks,volYMinor,bCfg);
  series.push(polygonSeries(volGreyArea,"#444444",bx,by,2));
  series.push(polygonSeries(volGreenLeftArea,"#228B22",bx,by,2));
  series.push(polygonSeries(volGreenRightArea,"#228B22",bx,by,2));
  series.push(polygonSeries(volBlueLeftArea,"#4169E1",bx,by,2));
  series.push(polygonSeries(volBlueRightArea,"#4169E1",bx,by,2));
  series.push(polygonSeries(volRedLeftCloud,"rgba(255,0,0,0.42)",bx,by,2));
  series.push(polygonSeries(volRedRightCloud,"rgba(255,0,0,0.32)",bx,by,2));
  series.push(polygonSeries(volRedLeftArea,"#EE0000",bx,by,2));
  series.push(polygonSeries(volRedRightArea,"#EE0000",bx,by,2));
  const volS = (data:number[][],color:string)=>({ type:"scatter", xAxisIndex:bx, yAxisIndex:by, data, symbolSize:7.5, silent:true, itemStyle:{ color, opacity:0.55 }, z:3 });
  series.push(volS(volLeftPoints,"#FF0000"),volS(volRightPoints,"#FF0000"),volS(volBluePoints,"#4169E1"),volS(volGreenPoints,"#228B22"));
  const refLine = (data:number[][])=>({ type:"line", xAxisIndex:bx, yAxisIndex:by, data, symbol:"none", silent:true, z:4, lineStyle:{ color:"#222", width:1, type:[6,4] } });
  series.push(refLine([[-volFcCut,-15.5],[-volFcCut,325.5]]),refLine([[volFcCut,-15.5],[volFcCut,325.5]]),refLine([[-6.6,volPCut],[6.6,volPCut]]));
  series.push({ type:"scatter", xAxisIndex:bx, yAxisIndex:by, z:6, silent:true, symbolSize:1, itemStyle:{ color:"transparent" },
    data:volLabels.map(([n,x,y])=>({ value:[x,y], name:n })),
    label:{ show:true, position:"inside", formatter:(p:any)=>p.name, fontFamily:SANS, fontSize:20, color:"#1a1a1a", opacity:0.95 }, labelLayout:{ hideOverlap:false } });
  g.push(txt("B",954,21,{ font:CAL, weight:"bold", size:36, align:"center", fill:"#000" }));
  g.push(txt("Volcano Plot of EV vs. Cell",1313.6,51,{ font:CAL, weight:"bold", size:27, align:"center", fill:"#000" }));
  [[1095.4,"#999999"],[1174.6,"#7FBF7F"],[1298,"#9DB2EF"],[1413,"#F57F7F"]].forEach(([x,c]:any)=>g.push(dot(x,126.7,16,c)));
  const legRich = { a:{ fontFamily:SANS, fontSize:19, fill:"#222" }, s:{ fontFamily:SANS, fontSize:12, fill:"#222", verticalAlign:"bottom" } } as any;
  g.push(txt("NS",1121.6,128,{ size:19 }));
  g.push(txt("{a|Log}{s|2}{a| FC}",1201,127,{ rich:legRich }));
  g.push(txt("p-value",1323.6,128,{ size:19 }));
  g.push(txt("{a|p – value and log}{s|2}{a| FC}",1439.7,127,{ rich:legRich }));
  g.push(txt("Log₂ FC < |1|",1343,227,{ size:6, align:"center", fill:"#555" }));
  g.push(txt("{p|P}{s|adj}{a| = 10e-6}",888,663,{ rich:{ p:{ fontFamily:"Liberation Serif", fontStyle:"italic", fontSize:17, fill:"#444" }, s:{ fontFamily:"Liberation Serif", fontStyle:"italic", fontSize:11, fill:"#444", verticalAlign:"bottom" }, a:{ fontFamily:"Liberation Serif", fontSize:17, fill:"#444" } } }));
  g.push(txt("{a|Log}{s|2}{a| fold change}",1346.5,767,{ align:"center", rich:{ a:{ fontFamily:SANS, fontSize:25, fill:"#222" }, s:{ fontFamily:SANS, fontSize:15, fill:"#222", verticalAlign:"bottom" } } }));
  g.push(txt("{a|− Log}{s|10}{p| P}{t|adj}",911,452,{ align:"center", rotation:Math.PI/2, rich:{ a:{ fontFamily:SANS, fontSize:30, fill:"#222" }, s:{ fontFamily:SANS, fontSize:18, fill:"#222", verticalAlign:"bottom" }, p:{ fontFamily:SANS, fontSize:30, fontStyle:"italic", fontWeight:"bold", fill:"#222" }, t:{ fontFamily:SANS, fontSize:14, fill:"#666", verticalAlign:"top" } } }));
  g.push(txt("total = 40205 variables",1695,809,{ size:19, align:"right", fill:"#222" }));

  // ---------- C, D ----------
  const dotPlot = (grid:any, xMin:number, xMax:number, terms:string[], ratio:number[], count:number[], padj:number[], pMax:number, size:(c:number)=>number) => {
    const i = grids.length;
    grids.push({ ...grid, show:true, borderColor:"#808080", borderWidth:1.5, backgroundColor:"#fff" });
    const cfg = { gridColor:"#EBEBEB", gridWidth:1.5, minorColor:"#F2F2F2", minorWidth:1, color:"#222", size:21.4, tickColor:"#444" };
    const x = addAxis(xAxes,i,"bottom",xMin,xMax,ratioTicks,ratioMinor,{ ...cfg, fmt:(v:number)=>v.toFixed(2), margin:7 });
    const y = addAxis(yAxes,i,"left",0.4,10.6,termSlots,null,{ ...cfg, inverse:true, fmt:(v:number)=>terms[v-1], margin:7, lineHeight:23, align:"right" });
    series.push({ type:"scatter", xAxisIndex:x, yAxisIndex:y, silent:true, z:5, clip:false,
      symbolSize:(v:number[])=>size(v[2]),
      data:ratio.map((r,k)=>({ value:[r,k+1,count[k]], itemStyle:{ color:padjColor(padj[k]/pMax), opacity:1 } })) });
  };
  const evSize = sizeScale(28,122,13.5,30.5);
  const cellSize = sizeScale(78,300,13.4,31.5);
  dotPlot({ left:303, top:862, width:409.7, height:742 },0.0122,0.06485,evTerms,evRatio,evCount,evPadj,7.06e-5,evSize);
  dotPlot({ left:1243.8, top:870.7, width:369.2, height:740.3 },0.01445,0.0668,cellTerms,cellRatio,cellCount,cellPadj,1.85e-13,cellSize);

  g.push(txt("C",40,874,{ font:CAL, weight:"bold", size:32, align:"center", fill:"#000" }));
  g.push(txt("EV enriched",516,891,{ font:CAL, size:29, align:"center" }));
  g.push(txt("GeneRatio",507,1647,{ size:21, align:"center" }));
  g.push(txt("p.adjust",741,1051,{ size:19.5 }));
  g.push(box(741,1069,31,151,barGrad(PADJ_STOPS)));
  [[1112,"2e-05"],[1154.6,"4e-05"],[1197,"6e-05"]].forEach(([y,l]:any)=>{ g.push(seg(741,y,747,y,"rgba(255,255,255,.6)")); g.push(seg(766,y,772,y,"rgba(255,255,255,.6)")); g.push(txt(l,781,y,{ size:15 })); });
  g.push(txt("Count",741,1270,{ size:19.5 }));
  evCountKeys.forEach((c,i)=>{ const y=[1302.7,1334,1368,1407][i]; g.push(dot(761,y,evSize(c),"#000")); g.push(txt(String(c),791,y,{ size:15 })); });

  g.push(txt("D",955,877,{ font:CAL, weight:"bold", size:32, align:"center", fill:"#000" }));
  g.push(txt("Cell enriched",1443.6,898,{ font:CAL, size:30, align:"center" }));
  g.push(txt("GeneRatio",1428,1654,{ size:21, align:"center" }));
  g.push(txt("Count",1643,1043,{ size:19.5 }));
  cellCountKeys.forEach((c,i)=>{ const y=[1076,1107,1138.6,1173.5,1211.6][i]; g.push(dot(1663,y,cellSize(c),"#000")); g.push(txt(String(c),1692,y,{ size:15 })); });
  g.push(txt("p.adjust",1643,1279.4,{ size:19.5 }));
  g.push(box(1643,1298,30,151,barGrad(PADJ_STOPS)));
  [[1339.7,"5.0e-14"],[1380,"1.0e-13"],[1420.7,"1.5e-13"]].forEach(([y,l]:any)=>{ g.push(seg(1643,y,1649,y,"rgba(255,255,255,.6)")); g.push(seg(1667,y,1673,y,"rgba(255,255,255,.6)")); g.push(txt(l,1682.5,y,{ size:15 })); });

  // ---------- networks ----------
  const network = (gridCfg:any, xr:number[], yr:number[], nodes:any[], links:any[], width:number) => {
    const i = grids.length;
    grids.push({ ...gridCfg, show:false });
    const xi = xAxes.length, yi = yAxes.length;
    xAxes.push({ type:"value", gridIndex:i, min:xr[0], max:xr[1], show:false });
    yAxes.push({ type:"value", gridIndex:i, min:yr[0], max:yr[1], inverse:true, show:false });
    series.push({ type:"graph", coordinateSystem:"cartesian2d", xAxisIndex:xi, yAxisIndex:yi, layout:"none", silent:true, z:3,
      data:nodes, edges:links, label:{ show:false }, edgeSymbol:["none","none"],
      lineStyle:{ color:"#B4B4B4", width, opacity:1, curveness:0 }, emphasis:{ disabled:true } });
  };
  const netBuilder = (stops:[number,string][], leafSize:number) => {
    const nodes:any[] = []; const links:any[] = [];
    const hubs:any[] = [];
    const addHub = (p:number[], d:number) => { hubs.push({ p, d }); return hubs.length-1; };
    const pending:[number,number][] = [];
    const addLeaves = (arr:number[][], hubIdx:number[]) => arr.forEach(([x,y,f])=>{
      nodes.push({ value:[x,y], symbolSize:leafSize, itemStyle:{ color:foldColor(stops,f), opacity:1 } });
      hubIdx.forEach((h)=>pending.push([nodes.length-1,h]));
    });
    const finish = () => {
      const base = nodes.length;
      hubs.forEach((h)=>nodes.push({ value:h.p, symbolSize:h.d, itemStyle:{ color:HUB, opacity:1 } }));
      pending.forEach(([a,h])=>links.push({ source:a, target:base+h }));
      return { nodes, links };
    };
    return { addHub, addLeaves, finish };
  };

  const e = netBuilder(FOLD_E,13.5);
  const hF = e.addHub(eHubFormation,26), hX = e.addHub(eHubXeno,22.5), hP = e.addHub(eHubPhase,26), hC = e.addHub(eHubCyto,28), hB = e.addHub(eHubBio,31);
  e.addLeaves(eFormationLeaves,[hF]);
  e.addLeaves(eBioLeaves,[hB]);
  e.addLeaves(eSharedLeaves,[hP,hC,hB]);
  e.addLeaves(eXenoLeaves,[hX,hP,hC,hB]);
  const eNet = e.finish();
  network({ left:0, top:1670, width:880, height:810 },[0,1568],[0,1568],eNet.nodes,eNet.links,1.6);

  const f = netBuilder(FOLD_F,13.5);
  const fM = f.addHub(fHubM,32), fT = f.addHub(fHubT,27), fP = f.addHub(fHubP,27), fS = f.addHub(fHubS,31);
  f.addLeaves(fromCrop(fMPhaseLeaves,930,1900),[fM]);
  f.addLeaves(fromCrop(fTranslationLeaves,1270,1680),[fT]);
  f.addLeaves(fromCrop(fSplicingLeaves,1270,2180),[fP,fS]);
  f.addLeaves(fSplicingTopLeaves,[fP,fS]);
  f.addLeaves(fBridgeMProc,[fM,fP]);
  f.addLeaves(fBridgeMTrans,[fM,fT]);
  f.addLeaves(fBridgeTransProc,[fT,fP]);
  const fNet = f.finish();
  network({ left:880, top:1670, width:875, height:810 },[880,1755],[1670,2480],fNet.nodes,fNet.links,1.9);

  // E text
  const ex = (z:number)=>z/1.782; const ey = (z:number)=>1670+z/1.936;
  g.push(txt("E",41,1706,{ font:CAL, weight:"bold", size:34, align:"center", fill:"#000" }));
  const nl = { size:19.8, halo:true };
  g.push(txt("Formation of the cornified envelope",ex(629),ey(303),{ ...nl, align:"center" }));
  g.push(txt("Xenobiotics",ex(123),ey(1135),{ ...nl, align:"center" }));
  g.push(txt("Biological oxidations",ex(778),ey(1128),{ ...nl, align:"center" }));
  g.push(txt("Phase I - Functionalization of compounds",ex(417),ey(1188),{ ...nl, align:"center" }));
  g.push(txt("Cytochrome P450 - arranged by substrate type",ex(457),ey(1250),{ ...nl, align:"center" }));
  g.push(txt("EV enriched",20,2425.7,{ font:CAL, size:35.5, fill:"#000" }));
  g.push(txt("size",755,1937,{ size:19.5 }));
  sizeKeysE.forEach((s,i)=>{ const y=[1971,2002,2037][i]; g.push(dot(774,y,[21,26,30][i],"#000")); g.push(txt(String(s),802,y,{ size:15 })); });
  g.push(txt("fold change",755,2078.6,{ size:19.5 }));
  g.push(box(755,2096.7,31,150.8,barGrad(FOLD_E.slice().reverse().map((s)=>s[1]))));
  foldTicksE.forEach((v,i)=>{ const y=[2108.5,2148,2187.6,2226.8][i]; g.push(seg(755,y,761,y,"rgba(255,255,255,.6)")); g.push(seg(780,y,786,y,"rgba(255,255,255,.6)")); g.push(txt(String(v),795,y,{ size:15 })); });

  // F text
  g.push(txt("F",955,1709,{ font:CAL, weight:"bold", size:34, align:"center", fill:"#000" }));
  g.push(txt("Etf1",1418,1923,{ size:19.8, align:"center" }));
  g.push(txt("M Phase",1134,2088.7,{ ...nl, align:"center" }));
  g.push(txt("Translation",1407.7,1912.3,{ ...nl, align:"center" }));
  g.push(txt("Uba52",1240,1953.6,{ size:19.8, align:"center" }));
  g.push(txt("Rps27a",1316.4,1967.5,{ size:19.8, align:"center" }));
  g.push(txt("Rps27",1287.4,1995.4,{ size:19.8, align:"center" }));
  g.push(txt("Eif4e",1448,2101,{ size:19.8, align:"center" }));
  g.push(txt("Polr2e",1390,2269,{ size:19.8, align:"center" }));
  g.push(txt("Processing of Capped Intron-Containing Pre-mRNA",1410,2259,{ ...nl, align:"center" }));
  g.push(txt("Cpsf1",1346,2305,{ size:19.8, align:"center" }));
  g.push(txt("mRNA Splicing",1474,2366,{ ...nl, align:"center" }));
  g.push(txt("mRNA Splicing - Major Pathway",1495.5,2401.4,{ ...nl, align:"center" }));
  g.push(txt("Cell enriched",966.5,2425,{ font:CAL, size:36, fill:"#000" }));
  g.push(txt("size",1653,1935,{ size:19.5 }));
  sizeKeysF.forEach((s,i)=>{ const y=[1968,2001,2039][i]; g.push(dot(1672.4,y,[24,29,33][i],"#000")); g.push(txt(String(s),1702.5,y,{ size:15.5 })); });
  g.push(txt("fold change",1653,2080.6,{ size:19.5 }));
  g.push(box(1653.5,2098.7,30,152.3,barGrad(FOLD_F.map((s)=>s[1]))));
  foldTicksF.forEach((v,i)=>{ const y=[2129.7,2168.5,2207,2246][i]; g.push(seg(1653.5,y,1659.5,y,"rgba(255,255,255,.6)")); g.push(seg(1677.5,y,1683.5,y,"rgba(255,255,255,.6)")); g.push(txt(String(v),1693,y,{ size:15 })); });

  return { animation:false, backgroundColor:"#fff", grid:grids, xAxis:xAxes, yAxis:yAxes, series, graphic:{ elements:g }, tooltip:{ show:false } };
}

export default function App() {
  const ref = useRef<HTMLDivElement>(null);
  useEffect(() => {
    document.body.style.margin = "0";
    const chart = echarts.init(ref.current!, undefined, { renderer:"svg", width:1755, height:2480 });
    chart.setOption(buildOption() as any);
    return () => chart.dispose();
  }, []);
  return <div ref={ref} style={{ position:"absolute", left:0, top:0, width:1755, height:2480 }} />;
}
